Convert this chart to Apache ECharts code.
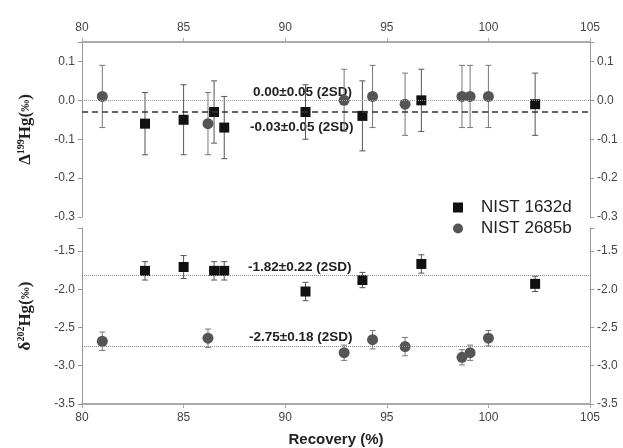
<!DOCTYPE html>
<html>
<head>
<meta charset="utf-8">
<script src="https://cdn.jsdelivr.net/npm/echarts@6/dist/echarts.min.js"></script>
<style>
  html, body { margin: 0; padding: 0; background: #fff; }
  #chart { width: 623px; height: 448px; }
</style>
</head>
<body>
<div id="chart"></div>
<script>
// recovery (%) of each digest
const recovery1632d = [83.1, 85.0, 86.5, 87.0, 91.0, 93.8, 96.7, 102.3]
const recovery2685b = [81.0, 86.2, 92.9, 94.3, 95.9, 98.7, 99.1, 100.0]

// Δ199Hg (‰) and 2SD
const d199_1632d = [-0.06, -0.05, -0.03, -0.07, -0.03, -0.04, 0.00, -0.01]
const d199err_1632d = [0.08, 0.09, 0.08, 0.08, 0.07, 0.09, 0.08, 0.08]
const d199_2685b = [0.01, -0.06, 0.00, 0.01, -0.01, 0.01, 0.01, 0.01]
const d199err_2685b = [0.08, 0.08, 0.08, 0.08, 0.08, 0.08, 0.08, 0.08]

// δ202Hg (‰) and 2SD
const d202_1632d = [-1.76, -1.71, -1.76, -1.76, -2.03, -1.88, -1.67, -1.93]
const d202err_1632d = [0.12, 0.15, 0.12, 0.12, 0.12, 0.1, 0.12, 0.1]
const d202_2685b = [-2.68, -2.64, -2.83, -2.66, -2.75, -2.89, -2.83, -2.64]
const d202err_2685b = [0.12, 0.12, 0.1, 0.12, 0.12, 0.1, 0.1, 0.1]

// mean lines
const meanTop = { d2685b: 0.00, d1632d: -0.03 }
const meanBottom = { d1632d: -1.82, d2685b: -2.75 }

const xTicks = [80, 85, 90, 95, 100, 105]

var myChart = echarts.init(document.getElementById('chart'))

function zip(xs, ys, es) {
  return xs.map((x, i) => es ? [x, ys[i], es[i]] : [x, ys[i]])
}

function errorBar(color) {
  return function (params, api) {
    const x = api.value(0), y = api.value(1), e = api.value(2)
    const hi = api.coord([x, y + e])
    const lo = api.coord([x, y - e])
    const cap = 3
    const st = { stroke: color, lineWidth: 1 }
    return {
      type: 'group',
      children: [
        { type: 'line', shape: { x1: hi[0], y1: hi[1], x2: lo[0], y2: lo[1] }, style: st },
        { type: 'line', shape: { x1: hi[0] - cap, y1: hi[1], x2: hi[0] + cap, y2: hi[1] }, style: st },
        { type: 'line', shape: { x1: lo[0] - cap, y1: lo[1], x2: lo[0] + cap, y2: lo[1] }, style: st }
      ]
    }
  }
}

function tickFmt(step) {
  return function (v) {
    const k = v / step
    return Math.abs(k - Math.round(k)) < 1e-6 ? v.toFixed(1) : ''
  }
}

const axisLabelStyle = { color: '#444', fontSize: 12, fontFamily: 'Arial' }

function xAxisOf(grid, pos) {
  return {
    gridIndex: grid, type: 'value', min: xTicks[0], max: xTicks[xTicks.length - 1], interval: 5,
    position: pos,
    axisLine: { show: true, onZero: false, lineStyle: { color: '#aaa', width: 2 } },
    axisTick: { show: true, length: 4, lineStyle: { color: '#aaa' } },
    axisLabel: Object.assign({ margin: 8 }, axisLabelStyle),
    splitLine: { show: false }
  }
}

function yAxisOf(grid, pos, min, max, step, name) {
  const ax = {
    gridIndex: grid, type: 'value', min: min, max: max, interval: step,
    position: pos,
    axisLine: { show: true, onZero: false, lineStyle: { color: '#999', width: 1 } },
    axisTick: { show: true, length: 4, lineStyle: { color: '#999' } },
    axisLabel: Object.assign({ margin: 7, formatter: tickFmt(step) }, axisLabelStyle),
    splitLine: { show: false }
  }
  if (name) {
    ax.name = name
    ax.nameLocation = 'middle'
    ax.nameRotate = 90
    ax.nameGap = 47
    ax.nameTextStyle = {
      rich: {
        a: { fontFamily: 'Liberation Serif', fontWeight: 'bold', fontSize: 17, color: '#222' },
        s: { fontFamily: 'Liberation Serif', fontWeight: 'bold', fontSize: 10, color: '#222', verticalAlign: 'top', padding: [0, 0, 9, 0] },
        p: { fontFamily: 'Liberation Serif', fontWeight: 'bold', fontSize: 12, color: '#222' }
      }
    }
  }
  return ax
}

function meanLine(y, type, color, width) {
  return { yAxis: y, lineStyle: { type: type, color: color, width: width } }
}

const noteStyle = { fontFamily: 'Arial', fontWeight: 'bold', fontSize: 13.5, fill: '#222' }

const option = {
  animation: false,
  backgroundColor: '#fff',
  grid: [
    { left: 82, right: 33, top: 42, height: 175 },
    { left: 82, right: 33, top: 228, height: 176 }
  ],
  legend: {
    orient: 'vertical',
    left: 448, top: 194,
    itemWidth: 10, itemHeight: 10, itemGap: 4,
    textStyle: { fontFamily: 'Arial', fontSize: 17, color: '#222', padding: [0, 0, 0, 13] },
    data: [
      { name: 'NIST 1632d', icon: 'rect', itemStyle: { color: '#111' } },
      { name: 'NIST 2685b', icon: 'circle', itemStyle: { color: '#555' } }
    ]
  },
  xAxis: [
    xAxisOf(0, 'top'),
    Object.assign(xAxisOf(1, 'bottom'), {
      name: 'Recovery (%)', nameLocation: 'middle', nameGap: 28,
      nameTextStyle: { fontFamily: 'Arial', fontWeight: 'bold', fontSize: 15, color: '#222' }
    })
  ],
  yAxis: [
    yAxisOf(0, 'left', -0.3, 0.15, 0.1, '{a|Δ}{s|199}{a|Hg(}{p|‰}{a|)}'),
    yAxisOf(0, 'right', -0.3, 0.15, 0.1),
    yAxisOf(1, 'left', -3.5, -1.2, 0.5, '{a|δ}{s|202}{a|Hg(}{p|‰}{a|)}'),
    yAxisOf(1, 'right', -3.5, -1.2, 0.5)
  ],
  graphic: [
    { type: 'text', left: 253, top: 85, style: Object.assign({ text: '0.00±0.05 (2SD)' }, noteStyle) },
    { type: 'text', left: 250, top: 120, style: Object.assign({ text: '-0.03±0.05 (2SD)' }, noteStyle) },
    { type: 'text', left: 248, top: 260, style: Object.assign({ text: '-1.82±0.22 (2SD)' }, noteStyle) },
    { type: 'text', left: 249, top: 330, style: Object.assign({ text: '-2.75±0.18 (2SD)' }, noteStyle) }
  ],
  series: [
    // error bars
    { name: 'err1', type: 'custom', xAxisIndex: 0, yAxisIndex: 0, z: 1,
      renderItem: errorBar('#777'), encode: { x: 0, y: 1 }, data: zip(recovery2685b, d199_2685b, d199err_2685b) },
    { name: 'err2', type: 'custom', xAxisIndex: 0, yAxisIndex: 0, z: 1,
      renderItem: errorBar('#555'), encode: { x: 0, y: 1 }, data: zip(recovery1632d, d199_1632d, d199err_1632d) },
    { name: 'err3', type: 'custom', xAxisIndex: 1, yAxisIndex: 2, z: 1,
      renderItem: errorBar('#777'), encode: { x: 0, y: 1 }, data: zip(recovery2685b, d202_2685b, d202err_2685b) },
    { name: 'err4', type: 'custom', xAxisIndex: 1, yAxisIndex: 2, z: 1,
      renderItem: errorBar('#555'), encode: { x: 0, y: 1 }, data: zip(recovery1632d, d202_1632d, d202err_1632d) },
    // top panel
    {
      name: 'NIST 2685b', type: 'scatter', xAxisIndex: 0, yAxisIndex: 0, z: 3,
      symbol: 'circle', symbolSize: 11, itemStyle: { color: '#555', opacity: 1 },
      data: zip(recovery2685b, d199_2685b),
      markLine: {
        silent: true, symbol: 'none', label: { show: false },
        data: [meanLine(meanTop.d2685b, 'dotted', '#999', 1)]
      }
    },
    {
      name: 'NIST 1632d', type: 'scatter', xAxisIndex: 0, yAxisIndex: 0, z: 4,
      symbol: 'rect', symbolSize: 10, itemStyle: { color: '#111', opacity: 1 },
      data: zip(recovery1632d, d199_1632d),
      markLine: {
        silent: true, symbol: 'none', label: { show: false },
        data: [meanLine(meanTop.d1632d, [6, 4], '#333', 1.5)]
      }
    },
    // bottom panel
    {
      name: 'NIST 2685b', type: 'scatter', xAxisIndex: 1, yAxisIndex: 2, z: 3,
      symbol: 'circle', symbolSize: 11, itemStyle: { color: '#555', opacity: 1 },
      data: zip(recovery2685b, d202_2685b),
      markLine: {
        silent: true, symbol: 'none', label: { show: false },
        data: [meanLine(meanBottom.d2685b, 'dotted', '#888', 1)]
      }
    },
    {
      name: 'NIST 1632d', type: 'scatter', xAxisIndex: 1, yAxisIndex: 2, z: 4,
      symbol: 'rect', symbolSize: 10, itemStyle: { color: '#111', opacity: 1 },
      data: zip(recovery1632d, d202_1632d),
      markLine: {
        silent: true, symbol: 'none', label: { show: false },
        data: [meanLine(meanBottom.d1632d, 'dotted', '#888', 1)]
      }
    }
  ]
}

myChart.setOption(option)
</script>
</body>
</html>
